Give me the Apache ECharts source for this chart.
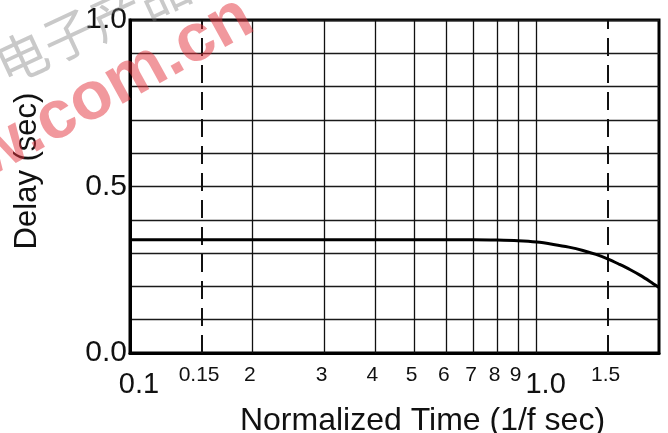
<!DOCTYPE html>
<html>
<head>
<meta charset="utf-8">
<script src="https://cdn.jsdelivr.net/npm/echarts@6/dist/echarts.min.js"></script>
<style>
  html, body { margin: 0; padding: 0; background: #fff; }
  #chart { width: 668px; height: 433px; }
</style>
</head>
<body>
<div id="chart"></div>
<script>
// ---- data ----
const xMin = 0.1;
const xMax = 2.0;
const yMin = 0;
const yMax = 1;
const yStep = 0.1;
const yLabelValues = [0, 0.5, 1.0];
const solidLines = [0.2, 0.3, 0.4, 0.5, 0.6, 0.7, 0.8, 0.9, 1.0];
const dashedLines = [0.15, 1.5];
const tickValues = [0.1, 0.15, 0.2, 0.3, 0.4, 0.5, 0.6, 0.7, 0.8, 0.9, 1.0, 1.5];
const tickLabels = ['0.1', '0.15', '2', '3', '4', '5', '6', '7', '8', '9', '1.0', '1.5'];
const bigTicks = ['0.1', '1.0'];
const curveX = [0.1, 0.2, 0.3, 0.4, 0.5, 0.6, 0.7, 0.8, 0.9, 1.0, 1.1, 1.2, 1.3, 1.4, 1.5, 1.6, 1.7, 1.8, 1.9, 2.0];
const curveY = [0.34, 0.34, 0.34, 0.34, 0.34, 0.34, 0.34, 0.339, 0.337, 0.333, 0.326, 0.318, 0.308, 0.296, 0.282, 0.266, 0.250, 0.233, 0.215, 0.197];
const xTitle = 'Normalized Time (1/f sec)';
const yTitle = 'Delay (sec)';
const watermarkRed = ['eepw', '.com.cn'];
const watermarkGray = '电子产品世界';

const FONT = '"Liberation Sans", Arial, sans-serif';

const chart = echarts.init(document.getElementById('chart'), null, { renderer: 'canvas' });

function styleFor(v) {
  if (dashedLines.indexOf(v) >= 0) return { type: [18, 9], width: 2, color: '#111' };
  if (solidLines.indexOf(v) >= 0) return { type: 'solid', width: 1.3, color: '#111' };
  return { type: 'solid', width: 1, color: 'rgba(0,0,0,0)' };
}

const lineData = tickValues.map((v, i) => {
  const t = tickLabels[i];
  const big = bigTicks.indexOf(t) >= 0;
  return {
    xAxis: v,
    lineStyle: styleFor(v),
    label: {
      show: true,
      position: 'start',
      distance: 4,
      formatter: big ? '{big|' + t + '}' : '{small|' + t + '}'
    }
  };
});

const DEG = Math.PI / 180;
const rotR = 29 * DEG;

const option = {
  animation: false,
  backgroundColor: '#ffffff',
  grid: {
    left: 130, right: 9, top: 20, bottom: 80,
    show: true, borderColor: '#000', borderWidth: 3, backgroundColor: 'transparent',
    containLabel: false,
    outerBoundsMode: 'none'
  },
  xAxis: {
    type: 'log',
    logBase: 10,
    min: xMin,
    max: xMax,
    axisLine: { show: true, lineStyle: { color: '#000', width: 3 } },
    axisTick: { show: false },
    axisLabel: { show: false },
    splitLine: { show: false },
    minorSplitLine: { show: false },
    name: xTitle,
    nameLocation: 'middle',
    nameGap: 52,
    nameTextStyle: { fontFamily: FONT, fontSize: 32, color: '#111', padding: [0, 0, 0, 56] }
  },
  yAxis: {
    type: 'value',
    min: yMin,
    max: yMax,
    interval: yStep,
    axisLine: { show: true, lineStyle: { color: '#000', width: 3 } },
    axisTick: { show: false },
    axisLabel: {
      show: true,
      margin: 3,
      fontFamily: FONT,
      fontSize: 30,
      color: '#111',
      formatter: function (v) {
        for (const y of yLabelValues) { if (Math.abs(v - y) < 1e-6) return v.toFixed(1); }
        return '';
      }
    },
    splitLine: { show: true, lineStyle: { color: '#1a1a1a', width: 1.3 } },
    name: yTitle,
    nameLocation: 'middle',
    nameRotate: 90,
    nameGap: 87,
    nameTextStyle: { fontFamily: FONT, fontSize: 31, color: '#111', padding: [0, 0, 0, 31] }
  },
  graphic: [
    {
      type: 'text', z: 100,
      x: 40, y: 167,
      rotation: rotR,
      style: {
        text: watermarkRed[1], fontFamily: FONT, fontWeight: 'bold', fontSize: 68,
        fill: 'rgba(228,50,60,0.5)', align: 'left', verticalAlign: 'bottom'
      }
    },
    {
      type: 'text', z: 100,
      x: 40, y: 167,
      rotation: rotR,
      style: {
        text: watermarkRed[0], fontFamily: FONT, fontWeight: 'bold', fontSize: 68,
        fill: 'rgba(228,50,60,0.5)', align: 'right', verticalAlign: 'bottom'
      }
    },
    {
      type: 'text', z: 100,
      x: -2, y: 68,
      rotation: 25 * DEG,
      style: {
        text: watermarkGray, fontFamily: '"Noto Sans CJK SC", sans-serif', fontSize: 52,
        fill: 'rgba(120,120,120,0.4)', align: 'left', verticalAlign: 'middle'
      }
    }
  ],
  series: [
    {
      type: 'line',
      data: curveX.map((x, i) => [x, curveY[i]]),
      showSymbol: false,
      clip: false,
      smooth: 0.3,
      lineStyle: { color: '#000', width: 3 },
      z: 5,
      markLine: {
        silent: true,
        symbol: ['none', 'none'],
        animation: false,
        z: 1,
        label: {
          rich: {
            small: { fontFamily: FONT, fontSize: 21, color: '#111', padding: [8, 5, 0, 0] },
            big: { fontFamily: FONT, fontSize: 29, color: '#111', padding: [13, 0, 0, 18] }
          }
        },
        data: lineData
      }
    }
  ]
};

chart.setOption(option);
</script>
</body>
</html>
